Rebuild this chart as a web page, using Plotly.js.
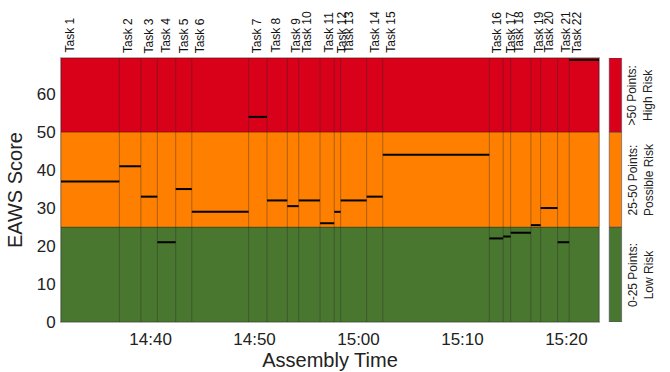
<!DOCTYPE html>
<html>
<head>
<meta charset="utf-8">
<script src="https://cdn.plot.ly/plotly-3.0.1.min.js"></script>
<style>
  html, body { margin: 0; padding: 0; background: #ffffff; }
  #chart { width: 670px; height: 372px; }
</style>
</head>
<body>
<div id="chart"></div>
<script>
// Assembly tasks along the shift, with their EAWS ergonomic scores
const day = '2024-01-01 ';
const taskNames = [
  'Task 1', 'Task 2', 'Task 3', 'Task 4', 'Task 5', 'Task 6', 'Task 7', 'Task 8',
  'Task 9', 'Task 10', 'Task 11', 'Task 12', 'Task 13', 'Task 14', 'Task 15',
  'Task 16', 'Task 17', 'Task 18', 'Task 19', 'Task 20', 'Task 21', 'Task 22'
];
// start time of each task; the last entry is the end of Task 22
const taskBounds = [
  '14:31:23', '14:37:00', '14:39:04', '14:40:39', '14:42:25', '14:43:58',
  '14:49:26', '14:51:12', '14:53:09', '14:54:15', '14:56:18', '14:57:40',
  '14:58:17', '15:00:47', '15:02:20', '15:12:35', '15:13:55', '15:14:38',
  '15:16:35', '15:17:31', '15:19:09', '15:20:16', '15:23:08'
];
const eawsScore = [
  37, 41, 33, 21, 35, 29, 54, 32, 30.5, 32, 26, 29, 32, 33, 44,
  22, 22.5, 23.5, 25.5, 30, 21, 69
];

// EAWS risk zones
const zoneLimits = [0, 25, 50, 69.5];
const zoneColors = ['#4a7730', '#ff8000', '#d9001a'];
const zoneLabels = [
  '0-25 Points:<br>Low Risk',
  '25-50 Points:<br>Possible Risk',
  '>50 Points:<br>High Risk'
];
const timeTicks = ['14:40', '14:50', '15:00', '15:10', '15:20'];

const FONT = 'Liberation Sans, Arial, Helvetica, sans-serif';
const t = s => day + s;
const yMax = zoneLimits[zoneLimits.length - 1];

// score level of every task as a flat segment over its duration
const segX = [], segY = [];
eawsScore.forEach((v, i) => {
  segX.push(t(taskBounds[i]), t(taskBounds[i + 1]), null);
  segY.push(v, v, null);
});

// thin separators at each task change
const sepX = [], sepY = [];
taskBounds.slice(1, -1).forEach(b => {
  sepX.push(t(b), t(b), null);
  sepY.push(0, yMax, null);
});

const traces = [
  {
    x: sepX, y: sepY, type: 'scatter', mode: 'lines',
    line: { color: 'rgba(40,40,40,0.38)', width: 1 },
    hoverinfo: 'skip', showlegend: false
  },
  {
    x: segX, y: segY, type: 'scatter', mode: 'lines',
    line: { color: '#000000', width: 2 },
    showlegend: false
  }
];

const shapes = [];
const annotations = [];
zoneColors.forEach((c, i) => {
  // coloured zone behind the data
  shapes.push({
    type: 'rect', layer: 'below', xref: 'paper', yref: 'y',
    x0: 0, x1: 1, y0: zoneLimits[i], y1: zoneLimits[i + 1],
    fillcolor: c, line: { color: 'rgba(0,0,0,0.25)', width: 1 }
  });
  // key swatch on the right
  shapes.push({
    type: 'rect', xref: 'paper', yref: 'y',
    x0: 1.019, x1: 1.042, y0: zoneLimits[i], y1: zoneLimits[i + 1],
    fillcolor: c, line: { color: 'rgba(60,60,90,0.5)', width: 1 }
  });
  annotations.push({
    xref: 'paper', yref: 'y', x: 1.0697,
    y: (zoneLimits[i] + zoneLimits[i + 1]) / 2,
    text: zoneLabels[i], textangle: -90, showarrow: false,
    xanchor: 'center', yanchor: 'middle', align: 'center', xshift: 4,
    font: { family: FONT, size: 12, color: '#222' }
  });
});

taskNames.forEach((name, i) => {
  annotations.push({
    xref: 'x', yref: 'paper', x: t(taskBounds[i]), y: 1,
    text: name, textangle: -90, showarrow: false,
    xanchor: 'left', yanchor: 'bottom', yshift: 3, xshift: -1,
    font: { family: FONT, size: 12, color: '#111' }
  });
});

const layout = {
  width: 670, height: 372,
  margin: { l: 61, r: 71, t: 58, b: 50 },
  paper_bgcolor: '#ffffff', plot_bgcolor: '#ffffff',
  font: { family: FONT, color: '#222' },
  showlegend: false,
  xaxis: {
    type: 'date',
    range: [t(taskBounds[0]), t(taskBounds[taskBounds.length - 1])],
    tickmode: 'array',
    tickvals: timeTicks.map(t),
    ticktext: timeTicks,
    showgrid: false, zeroline: false,
    showline: true, linecolor: 'rgba(0,0,0,0.3)', linewidth: 1, mirror: true,
    ticks: '', ticklabelstandoff: 2,
    tickfont: { family: FONT, size: 17, color: '#222' },
    title: { text: 'Assembly Time', font: { family: FONT, size: 20, color: '#222' }, standoff: 4 }
  },
  yaxis: {
    range: [0, yMax],
    tickvals: [0, 10, 20, 30, 40, 50, 60],
    showgrid: false, zeroline: false,
    showline: true, linecolor: 'rgba(0,0,0,0.3)', linewidth: 1, mirror: true,
    ticks: '', ticklabelstandoff: 1,
    tickfont: { family: FONT, size: 17, color: '#222' },
    title: { text: 'EAWS Score', font: { family: FONT, size: 20, color: '#222' }, standoff: 8 }
  },
  shapes: shapes,
  annotations: annotations
};

Plotly.newPlot('chart', traces, layout, { displayModeBar: false, staticPlot: true });
</script>
</body>
</html>
